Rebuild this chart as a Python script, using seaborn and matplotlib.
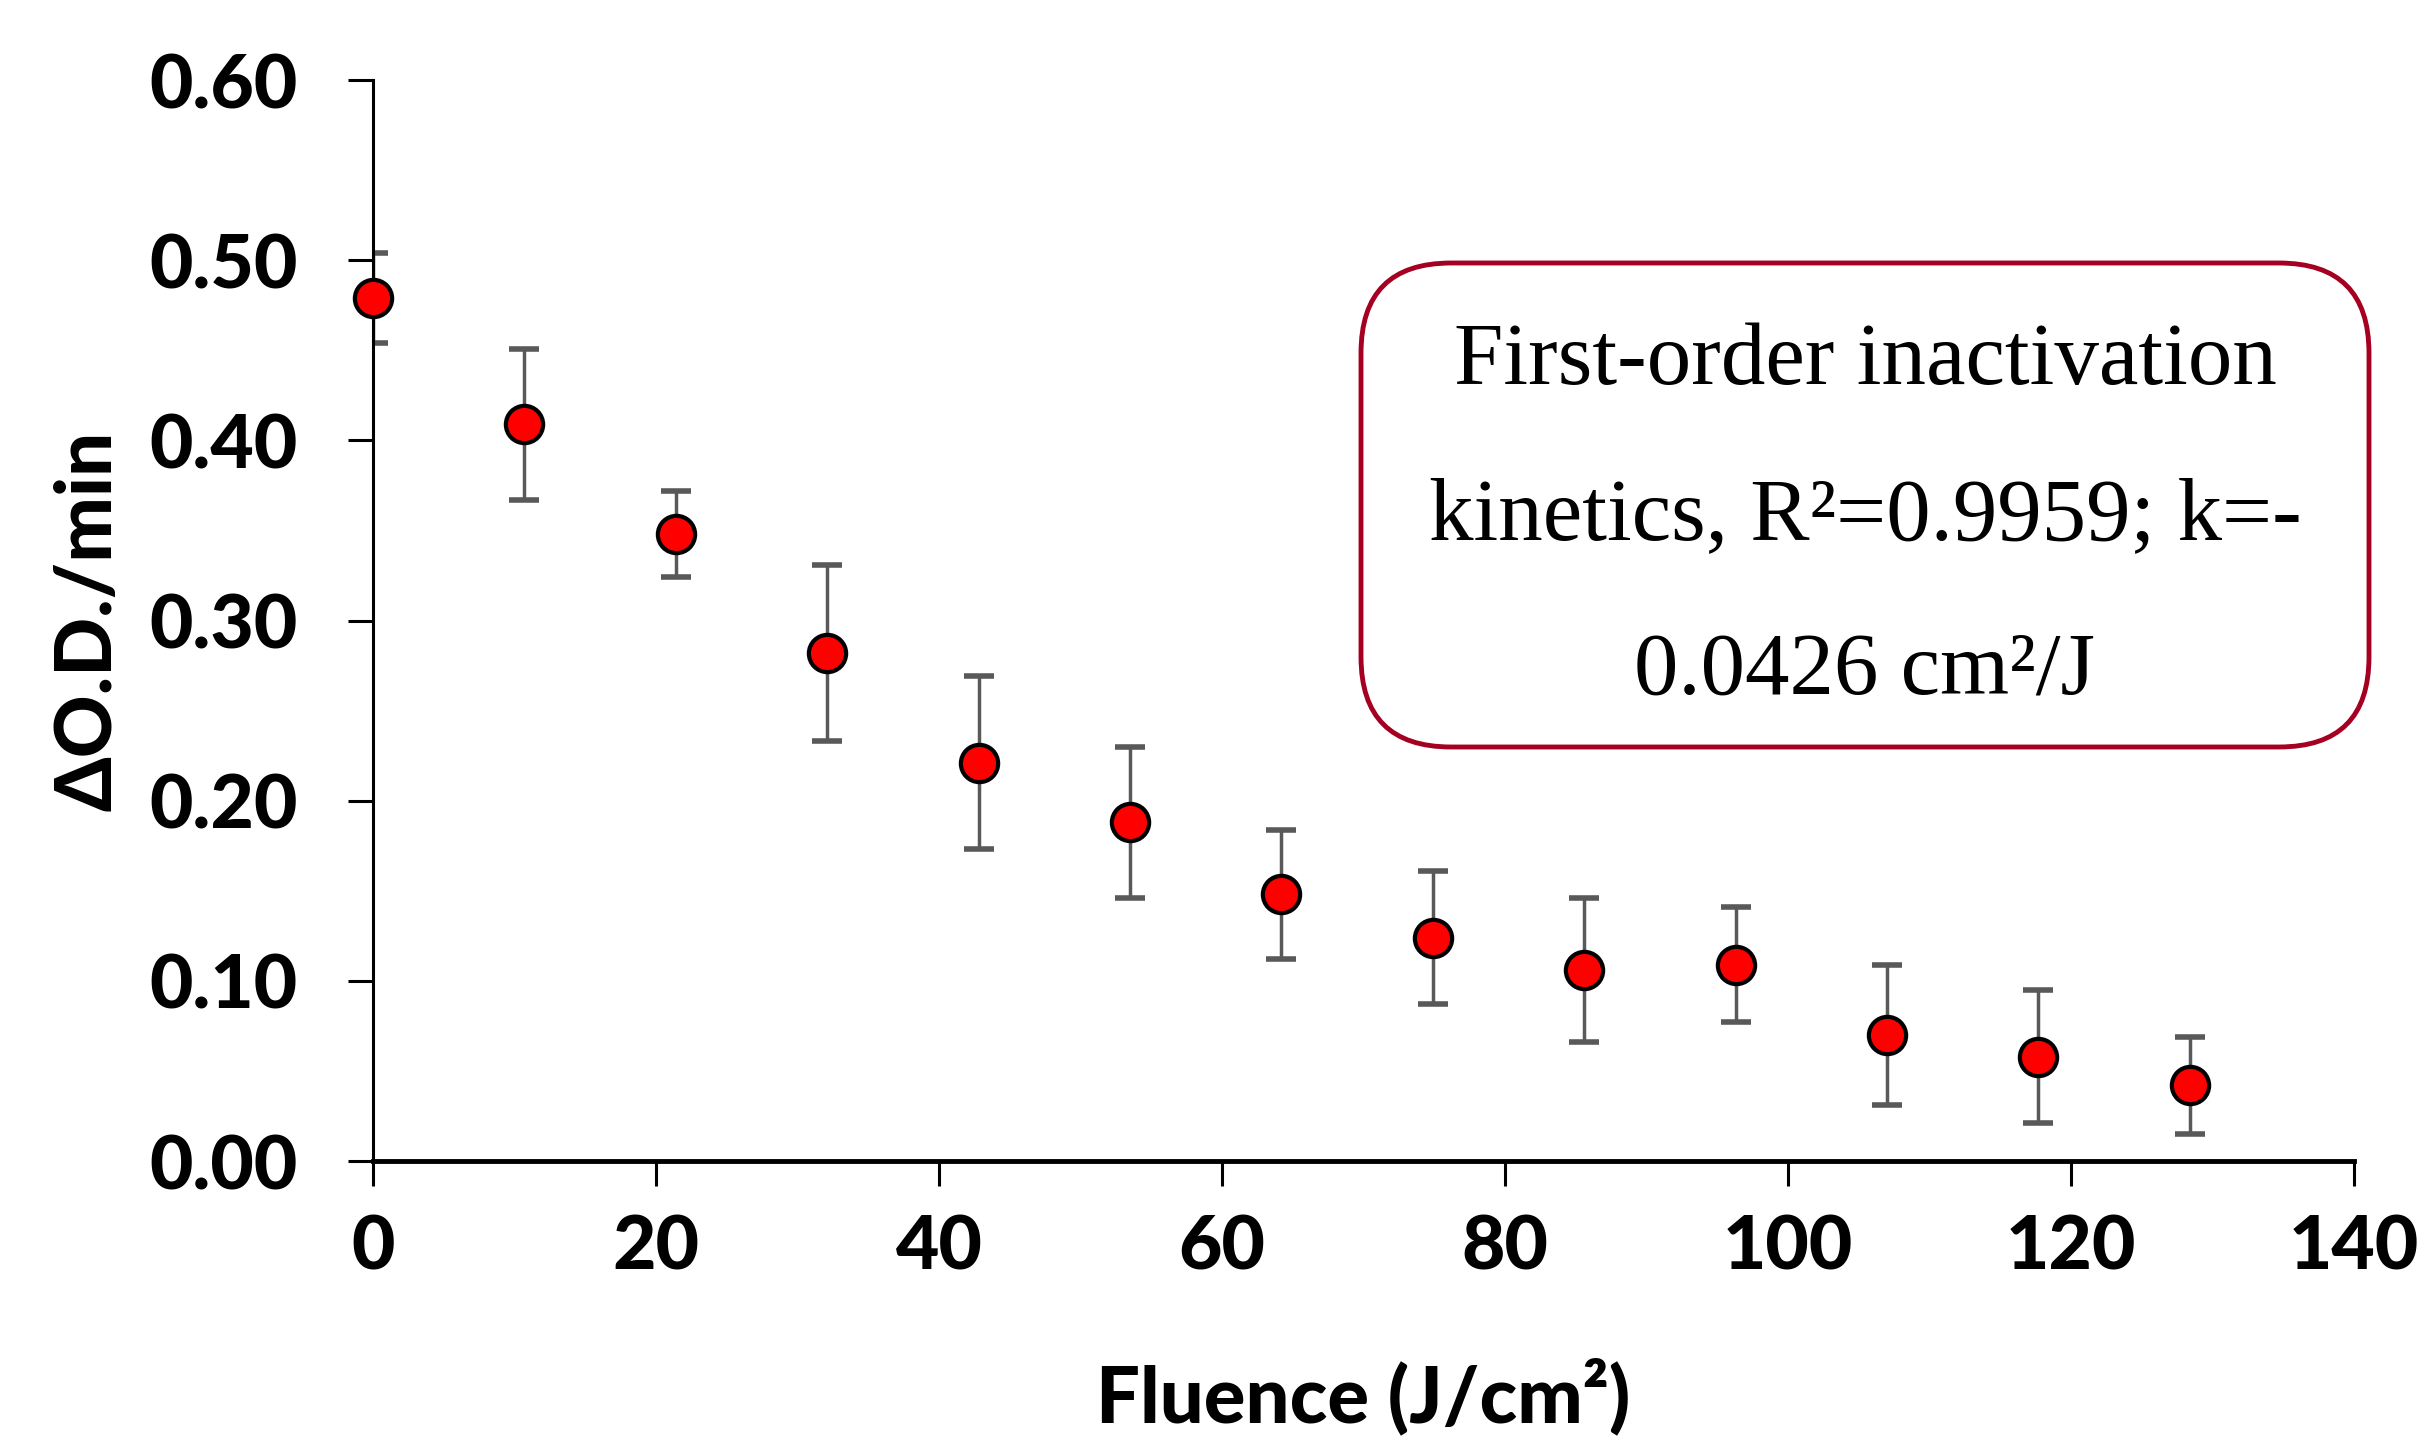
import numpy as np
import pandas as pd
import matplotlib
matplotlib.use("Agg")
import matplotlib.pyplot as plt
from matplotlib.patches import FancyBboxPatch
import seaborn as sns

# Data
fluence = [0, 10.7, 21.4, 32.1, 42.8, 53.5, 64.2, 74.9, 85.6, 96.3, 107.0, 117.7, 128.4]
delta_od = [0.479, 0.409, 0.348, 0.282, 0.221, 0.188, 0.148, 0.124, 0.106, 0.109, 0.070, 0.058, 0.042]
err = [0.025, 0.042, 0.024, 0.049, 0.048, 0.042, 0.036, 0.037, 0.040, 0.032, 0.039, 0.037, 0.027]
x_ticks = [0, 20, 40, 60, 80, 100, 120, 140]
y_ticks = [0.0, 0.1, 0.2, 0.3, 0.4, 0.5, 0.6]

df = pd.DataFrame({"fluence": fluence, "od": delta_od, "err": err})

sns.set_style("ticks")
plt.rcParams["font.family"] = ["Lato", "DejaVu Sans"]
plt.rcParams["text.color"] = "black"
plt.rcParams["axes.labelcolor"] = "black"
plt.rcParams["xtick.color"] = "black"
plt.rcParams["ytick.color"] = "black"

fig = plt.figure(figsize=(24.25, 14.45), dpi=100)
ax = fig.add_axes([0.1538, 0.1965, 0.8169, 0.7481])

ax.errorbar(df["fluence"], df["od"], yerr=df["err"], fmt="none",
            ecolor="#595959", elinewidth=2.5, capsize=11, capthick=4, zorder=2)
sns.scatterplot(data=df, x="fluence", y="od", ax=ax, s=720, color="#FF0000",
                edgecolor="black", linewidth=3, zorder=3, clip_on=False)

ax.set_xlim(0, 140)
ax.set_ylim(0, 0.6)
ax.set_xticks(x_ticks)
ax.set_yticks(y_ticks)
ax.set_xticklabels([str(t) for t in x_ticks])
ax.set_yticklabels([f"{t:.2f}" for t in y_ticks])
ax.tick_params(axis="both", length=18, width=2.2, color="black", labelsize=54)
ax.tick_params(axis="x", pad=20)
ax.tick_params(axis="y", pad=36)
for lab in ax.get_xticklabels() + ax.get_yticklabels():
    lab.set_fontweight("black")

sns.despine(ax=ax)
ax.spines["left"].set_linewidth(2.2)
ax.spines["bottom"].set_linewidth(3.5)
ax.spines["left"].set_color("black")
ax.spines["bottom"].set_color("black")

ax.set_xlabel("Fluence (J/cm²)", fontsize=56, fontweight="black", labelpad=54)
ax.set_ylabel("ΔO.D./min", fontsize=56, fontweight="black", labelpad=18)

# Annotation box
box = FancyBboxPatch((13.61 + 0.9, 6.98 + 0.9), 23.69 - 13.61 - 1.8, 11.82 - 6.98 - 1.8,
                     boxstyle="round,pad=0.9", transform=fig.dpi_scale_trans,
                     facecolor="white", edgecolor="#A50021", linewidth=3.5)
fig.patches.append(box)
fig.text(18.65 / 24.25, 9.27 / 14.45,
         "First-order inactivation\nkinetics, R²=0.9959; k=-\n0.0426 cm²/J",
         ha="center", va="center", fontsize=64, linespacing=2.2,
         family=["Liberation Serif", "DejaVu Serif"], color="black")

fig.savefig("out.png", dpi=100)
